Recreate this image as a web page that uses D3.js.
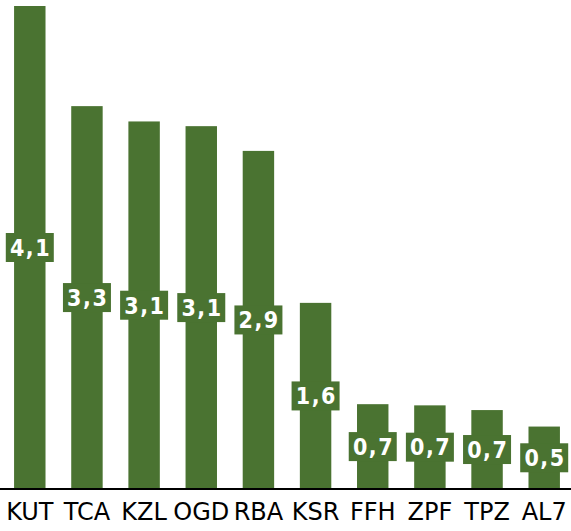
<!DOCTYPE html>
<html><head><meta charset="utf-8">
<script src="https://cdn.jsdelivr.net/npm/d3@7/dist/d3.min.js"></script>
<style>body{margin:0;background:#fff}svg{display:block}</style>
</head><body>
<svg id="c" width="571" height="531"></svg>
<script>
const categories = ["KUT","TCA","KZL","OGD","RBA","KSR","FFH","ZPF","TPZ","AL7"];
const values = [4.1, 3.25, 3.12, 3.08, 2.87, 1.58, 0.72, 0.71, 0.67, 0.53];
const labels = ["4,1","3,3","3,1","3,1","2,9","1,6","0,7","0,7","0,7","0,5"];

const W = 571, H = 531, baseY = 489, topY = 6;
const svg = d3.select("#c");
const x = d3.scaleBand().domain(categories).range([1.5, 572.5]).paddingInner(0.45).paddingOuter(0.22);
const y = d3.scaleLinear().domain([0, 4.1]).range([baseY, topY]);
const color = "#4a7331";
const font = "'DejaVu Sans', sans-serif";

svg.selectAll("rect.bar").data(categories).join("rect")
  .attr("class","bar")
  .attr("x", d => x(d)).attr("width", x.bandwidth())
  .attr("y", (d,i) => y(values[i])).attr("height", (d,i) => baseY - y(values[i]))
  .attr("fill", color);

const g = svg.selectAll("g.lbl").data(categories).join("g").attr("class","lbl")
  .attr("transform", (d,i) => `translate(${x(d)+x.bandwidth()/2},${(y(values[i])+baseY)/2})`);
g.append("rect").attr("x",-24).attr("y",-14.5).attr("width",48).attr("height",29).attr("fill",color);
g.append("text").text((d,i)=>labels[i]).attr("text-anchor","middle").attr("dy","0.36em")
  .attr("x", 0.75).attr("letter-spacing", 1.5)
  .attr("fill","#fff").attr("font-family","'DejaVu Sans Condensed', 'DejaVu Sans', sans-serif")
  .attr("font-size",23).attr("font-weight","bold");

const axis = d3.axisBottom(x).tickSize(0).tickPadding(14);
const ag = svg.append("g").attr("transform",`translate(0,${baseY})`).call(axis);
ag.select(".domain").attr("d", `M0,0H${W}`).attr("stroke","#000").attr("stroke-width",2);
ag.selectAll("text").attr("font-family",font).attr("font-size",24).attr("fill","#000");
</script>
</body></html>
